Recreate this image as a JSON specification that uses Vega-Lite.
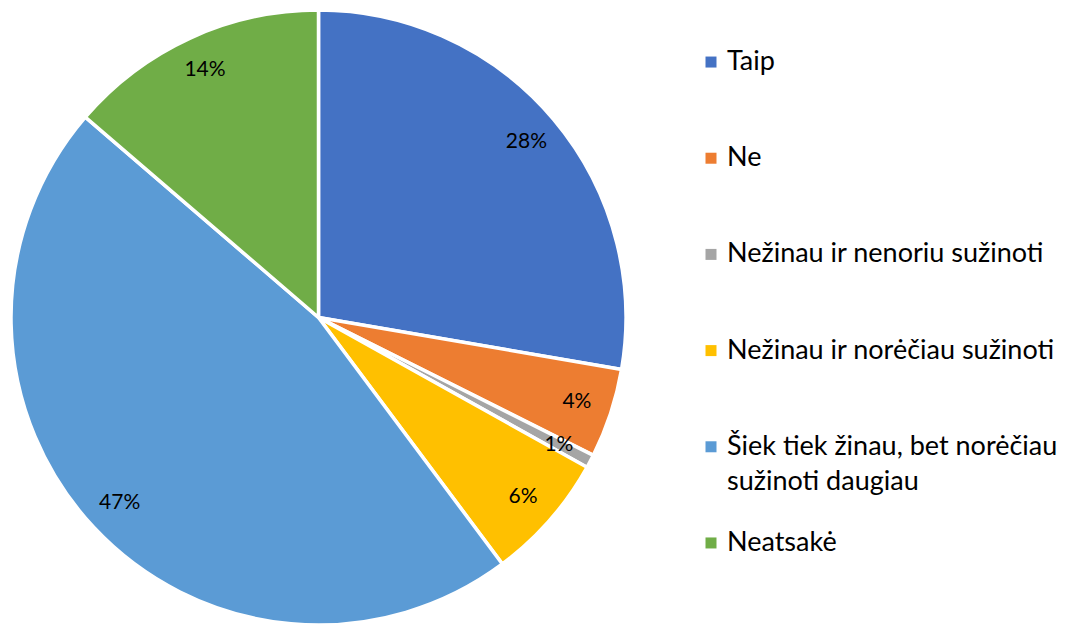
{
  "$schema": "https://vega.github.io/schema/vega-lite/v6.json",
  "padding": 0,
  "spacing": 0,
  "background": "white",
  "config": {"view": {"stroke": null}, "font": "Lato"},
  "data": {
    "values": [
      {"atsakymas": "Taip", "procentai": 27.7, "eil": 1, "zyma": "28%", "legenda": "Taip"},
      {"atsakymas": "Ne", "procentai": 4.7, "eil": 2, "zyma": "4%", "legenda": "Ne"},
      {"atsakymas": "Nežinau ir nenoriu sužinoti", "procentai": 0.7, "eil": 3, "zyma": "1%", "legenda": "Nežinau ir nenoriu sužinoti"},
      {"atsakymas": "Nežinau ir norėčiau sužinoti", "procentai": 6.7, "eil": 4, "zyma": "6%", "legenda": "Nežinau ir norėčiau sužinoti"},
      {"atsakymas": "Šiek tiek žinau, bet norėčiau sužinoti daugiau", "procentai": 46.5, "eil": 5, "zyma": "47%", "legenda": "Šiek tiek žinau, bet norėčiau\nsužinoti daugiau"},
      {"atsakymas": "Neatsakė", "procentai": 13.7, "eil": 6, "zyma": "14%", "legenda": "Neatsakė"}
    ]
  },
  "hconcat": [
    {
      "width": 637,
      "height": 635,
      "encoding": {
        "theta": {"field": "procentai", "type": "quantitative", "stack": true},
        "order": {"field": "eil", "type": "quantitative"}
      },
      "layer": [
        {
          "mark": {"type": "arc", "outerRadius": 307.5, "stroke": "white", "strokeWidth": 3.5},
          "encoding": {
            "color": {
              "field": "atsakymas",
              "type": "nominal",
              "scale": {
                "domain": ["Taip", "Ne", "Nežinau ir nenoriu sužinoti", "Nežinau ir norėčiau sužinoti", "Šiek tiek žinau, bet norėčiau sužinoti daugiau", "Neatsakė"],
                "range": ["#4472C4", "#ED7D31", "#A5A5A5", "#FFC000", "#5B9BD5", "#70AD47"]
              },
              "legend": null
            }
          }
        },
        {
          "mark": {"type": "text", "radius": 272, "font": "Lato", "fontSize": 21, "color": "#000000"},
          "encoding": {"text": {"field": "zyma", "type": "nominal"}}
        }
      ]
    },
    {
      "width": 148,
      "height": 605,
      "encoding": {
        "y": {
          "field": "atsakymas",
          "type": "nominal",
          "sort": {"field": "eil", "order": "ascending"},
          "scale": {"type": "point", "padding": 0.645},
          "axis": null
        }
      },
      "layer": [
        {
          "mark": {"type": "point", "shape": "square", "filled": true, "size": 121, "opacity": 1},
          "encoding": {
            "color": {
              "field": "atsakymas",
              "type": "nominal",
              "scale": {
                "domain": ["Taip", "Ne", "Nežinau ir nenoriu sužinoti", "Nežinau ir norėčiau sužinoti", "Šiek tiek žinau, bet norėčiau sužinoti daugiau", "Neatsakė"],
                "range": ["#4472C4", "#ED7D31", "#A5A5A5", "#FFC000", "#5B9BD5", "#70AD47"]
              },
              "legend": null
            }
          }
        },
        {
          "mark": {"type": "text", "align": "left", "baseline": "middle", "dx": 16, "font": "Lato", "fontSize": 27, "lineHeight": 35, "lineBreak": "\n", "color": "#000000"},
          "encoding": {"text": {"field": "legenda", "type": "nominal"}}
        }
      ]
    }
  ]
}
